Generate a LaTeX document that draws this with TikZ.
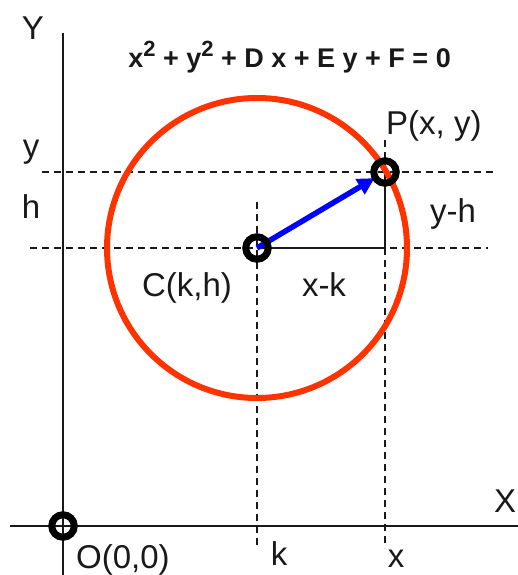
\documentclass[tikz,border=0pt]{standalone}
\usepackage{fontspec}
\setmainfont{Liberation Sans}
\usetikzlibrary{arrows.meta}
\definecolor{circred}{RGB}{255,51,0}
\definecolor{vecblue}{RGB}{0,0,255}
\definecolor{ink}{RGB}{25,25,25}
\newcommand{\sqd}{\raisebox{11.5pt}{\fontsize{22}{22}\selectfont 2}}
\tikzset{
  axis/.style={draw=ink, line width=2.5pt},
  guide/.style={draw=ink, line width=2pt, dash pattern=on 7pt off 5pt},
  leg/.style={draw=ink, line width=2.5pt},
  ring/.style={circle, draw=black, line width=7pt, minimum size=22.5pt, inner sep=0pt},
  lbl/.style={inner sep=0pt, anchor=base, font=\fontsize{33}{38}\selectfont, text=ink},
  eqn/.style={inner sep=0pt, anchor=base west, font=\fontsize{27}{32}\selectfont\bfseries, text=ink},
}
\begin{document}
\begin{tikzpicture}[x=1pt,y=-1pt]
\useasboundingbox (0,0) rectangle (518,575);
% key points
\coordinate (C) at (257,248);
\coordinate (P) at (385,172);
\coordinate (O) at (63,526);
\coordinate (Q) at (385,248);
\coordinate (yl) at (42,172);
\coordinate (yr) at (493,172);
\coordinate (hl) at (30,248);
\coordinate (hr) at (488,248);
\coordinate (kt) at (257,202);
\coordinate (kb) at (257,548);
\coordinate (xt) at (385,140);
\coordinate (xb) at (385,548);
\coordinate (Yt) at (63,33);
\coordinate (Yb) at (63,575);
\coordinate (Xl) at (10,526);
\coordinate (Xr) at (518,526);
% guides
\draw[guide] (yl) -- (yr);
\draw[guide] (hl) -- (hr);
\draw[guide] (kt) -- (kb);
\draw[guide] (xt) -- (xb);
% legs
\draw[leg] (C) -- (Q) -- (P);
% axes
\draw[axis] (Yt) -- (Yb);
\draw[axis] (Xl) -- (Xr);
% circle
\draw[circred, line width=6pt] (C) circle[radius=150];
% vector
\draw[vecblue, line width=5.5pt, -{Triangle[length=17pt,width=17pt]}, shorten >=12pt] (C) -- (P);
% points
\node[ring] (Cn) at (C) {};
\node[ring] (Pn) at (P) {};
\node[ring] (On) at (O) {};
% labels
\node[lbl] (tY) at (33,40) {Y};
\node[lbl] (ty) at (31,157) {y};
\node[lbl] (th) at (31,218) {h};
\node[lbl, anchor=base west] (tP) at (386,135) {P(x, y)};
\node[lbl] (tyh) at (453,222) {y-h};
\node[lbl] (tC) at (187,296) {C(k,h)};
\node[lbl] (txk) at (324,296) {x-k};
\node[lbl] (tX) at (505,512) {X};
\node[lbl, anchor=base west] (tO) at (76,568) {O(0,0)};
\node[lbl] (tk) at (279,565) {k};
\node[lbl] (tx) at (396,567) {x};
\node[eqn, anchor=base east] (teq) at (451,68) {x\sqd{} + y\sqd{} + D x + E y + F = 0};
\end{tikzpicture}
\end{document}
